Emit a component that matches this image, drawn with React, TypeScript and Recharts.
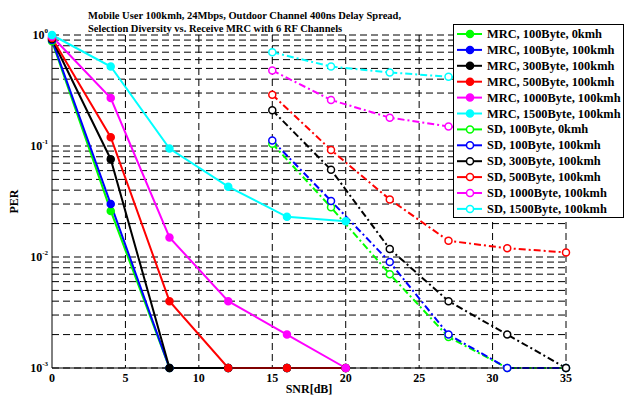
import React from "react";
import { LineChart, Line, XAxis, YAxis, CartesianGrid } from "recharts";

const FONT = '"Liberation Serif", "Times New Roman", serif';

// SNR points
const mrcSnr = [0, 4, 8, 12, 16, 20];
const sdSnr = [15, 19, 23, 27, 31, 35];

// PER, MRC
const mrc100Byte0kmh = [0.88, 0.026, 0.001, 0.001, 0.001, 0.001];
const mrc100Byte100kmh = [0.9, 0.03, 0.001, 0.001, 0.001, 0.001];
const mrc300Byte100kmh = [0.92, 0.076, 0.001, 0.001, 0.001, 0.001];
const mrc500Byte100kmh = [0.94, 0.12, 0.004, 0.001, 0.001, 0.001];
const mrc1000Byte100kmh = [0.97, 0.27, 0.015, 0.004, 0.002, 0.001];
const mrc1500Byte100kmh = [1.0, 0.52, 0.095, 0.043, 0.023, 0.021];

// PER, selection diversity
const sd100Byte0kmh = [0.105, 0.028, 0.007, 0.0019, 0.001, 0.001];
const sd100Byte100kmh = [0.112, 0.032, 0.009, 0.002, 0.001, 0.001];
const sd300Byte100kmh = [0.21, 0.061, 0.0118, 0.004, 0.002, 0.001];
const sd500Byte100kmh = [0.29, 0.092, 0.033, 0.014, 0.012, 0.011];
const sd1000Byte100kmh = [0.48, 0.26, 0.18, 0.15, 0.135, 0.125];
const sd1500Byte100kmh = [0.7, 0.52, 0.46, 0.42, 0.4, 0.38];

const xTicks = [0, 5, 10, 15, 20, 25, 30, 35];
const yTicks = [0.001, 0.01, 0.1, 1];
const decades = [0.001, 0.01, 0.1];
const minorSteps = [2, 3, 4, 5, 6, 7, 8, 9];
const gridY = [...yTicks, ...decades.flatMap((d) => minorSteps.map((k) => k * d))];
const gridX = [5, 10, 15, 20, 25, 30, 35];

const titleLines = [
  "Mobile User 100kmh, 24Mbps, Outdoor Channel 400ns Delay Spread,",
  "Selection Diversity vs. Receive MRC with 6 RF Channels",
];

type Series = { name: string; color: string; snr: number[]; per: number[]; sd: boolean };

const series: Series[] = [
  { name: "MRC, 100Byte, 0kmh", color: "#00ff00", snr: mrcSnr, per: mrc100Byte0kmh, sd: false },
  { name: "MRC, 100Byte, 100kmh", color: "#0000ff", snr: mrcSnr, per: mrc100Byte100kmh, sd: false },
  { name: "MRC, 300Byte, 100kmh", color: "#000000", snr: mrcSnr, per: mrc300Byte100kmh, sd: false },
  { name: "MRC, 500Byte, 100kmh", color: "#ff0000", snr: mrcSnr, per: mrc500Byte100kmh, sd: false },
  { name: "MRC, 1000Byte, 100kmh", color: "#ff00ff", snr: mrcSnr, per: mrc1000Byte100kmh, sd: false },
  { name: "MRC, 1500Byte, 100kmh", color: "#00ffff", snr: mrcSnr, per: mrc1500Byte100kmh, sd: false },
  { name: "SD, 100Byte, 0kmh", color: "#00ff00", snr: sdSnr, per: sd100Byte0kmh, sd: true },
  { name: "SD, 100Byte, 100kmh", color: "#0000ff", snr: sdSnr, per: sd100Byte100kmh, sd: true },
  { name: "SD, 300Byte, 100kmh", color: "#000000", snr: sdSnr, per: sd300Byte100kmh, sd: true },
  { name: "SD, 500Byte, 100kmh", color: "#ff0000", snr: sdSnr, per: sd500Byte100kmh, sd: true },
  { name: "SD, 1000Byte, 100kmh", color: "#ff00ff", snr: sdSnr, per: sd1000Byte100kmh, sd: true },
  { name: "SD, 1500Byte, 100kmh", color: "#00ffff", snr: sdSnr, per: sd1500Byte100kmh, sd: true },
];

const DASH_DOT = "7 3 2 3";

const YTick = (props: any) => {
  const { x, y, payload } = props;
  const exp = Math.round(Math.log10(payload.value));
  return (
    <text x={x} y={y + 4} textAnchor="end" fontFamily={FONT} fontWeight="bold" fontSize={12} fill="#000">
      <tspan>10</tspan>
      <tspan dy={-6} fontSize={7}>{exp}</tspan>
    </text>
  );
};

const PerLabel = (props: any) => {
  const vb = props.viewBox || { x: 0, y: 35, width: 52, height: 333 };
  const cx = vb.x + 18;
  const cy = vb.y + vb.height / 2;
  return (
    <text x={cx} y={cy} transform={`rotate(-90 ${cx} ${cy})`} textAnchor="middle"
      fontFamily={FONT} fontWeight="bold" fontSize={12} fill="#000">PER</text>
  );
};

const SnrLabel = (props: any) => {
  const vb = props.viewBox || { x: 52, y: 368, width: 514, height: 28 };
  return (
    <text x={vb.x + vb.width / 2} y={vb.y + vb.height - 3} textAnchor="middle"
      fontFamily={FONT} fontWeight="bold" fontSize={12} fill="#000">SNR[dB]</text>
  );
};

const Overlay = () => {
  const rowH = 15.9;
  const top = 34;
  return (
    <svg width={626} height={396} style={{ position: "absolute", left: 0, top: 0, pointerEvents: "none" }}>
      {titleLines.map((t, i) => (
        <text key={i} x={88} y={19 + i * 13} fontFamily={FONT} fontWeight="bold" fontSize={10.5} fill="#000">{t}</text>
      ))}
      <rect x={453.5} y={24.5} width={170} height={193} fill="#fff" stroke="#000" strokeWidth={1} />
      {series.map((s, i) => {
        const cy = top + i * rowH;
        return (
          <g key={s.name}>
            <line x1={457} x2={482} y1={cy} y2={cy} stroke={s.color} strokeWidth={2} />
            <circle cx={470} cy={cy} r={3.5} fill={s.sd ? "#fff" : s.color} stroke={s.color} strokeWidth={1.5} />
            <text x={487} y={cy + 4} fontFamily={FONT} fontWeight="bold" fontSize={12.4} fill="#000">{s.name}</text>
          </g>
        );
      })}
    </svg>
  );
};

export default function App() {
  return (
    <div style={{ position: "absolute", left: 0, top: 0, width: 626, height: 396, background: "#fff" }}>
      <LineChart width={626} height={396} margin={{ top: 35, right: 60, bottom: 0, left: 0 }}>
        <CartesianGrid
          horizontalValues={gridY}
          verticalValues={gridX}
          stroke="#000"
          strokeDasharray="7 4"
          fill="none"
        />
        <XAxis
          type="number"
          dataKey="x"
          domain={[0, 35]}
          ticks={xTicks}
          interval={0}
          height={28}
          stroke="#000"
          tickLine={false}
          tickSize={0}
          tickMargin={5}
          tick={{ fill: "#000", fontSize: 12, fontWeight: "bold", fontFamily: FONT }}
          label={{ content: SnrLabel }}
        />
        <YAxis
          type="number"
          scale="log"
          domain={[0.001, 1]}
          ticks={yTicks}
          interval={0}
          width={52}
          stroke="#000"
          tickLine={false}
          tickSize={0}
          tickMargin={4}
          tick={<YTick />}
          label={{ content: PerLabel }}
        />
        {series.map((s) => (
          <Line
            key={s.name}
            data={s.snr.map((x, i) => ({ x, y: s.per[i] }))}
            dataKey="y"
            name={s.name}
            stroke={s.color}
            strokeWidth={2}
            strokeDasharray={s.sd ? DASH_DOT : undefined}
            dot={{ r: 3.5, fill: s.sd ? "#fff" : s.color, stroke: s.color, strokeWidth: 1.5, strokeDasharray: "" }}
            isAnimationActive={false}
          />
        ))}
      </LineChart>
      <Overlay />
    </div>
  );
}
